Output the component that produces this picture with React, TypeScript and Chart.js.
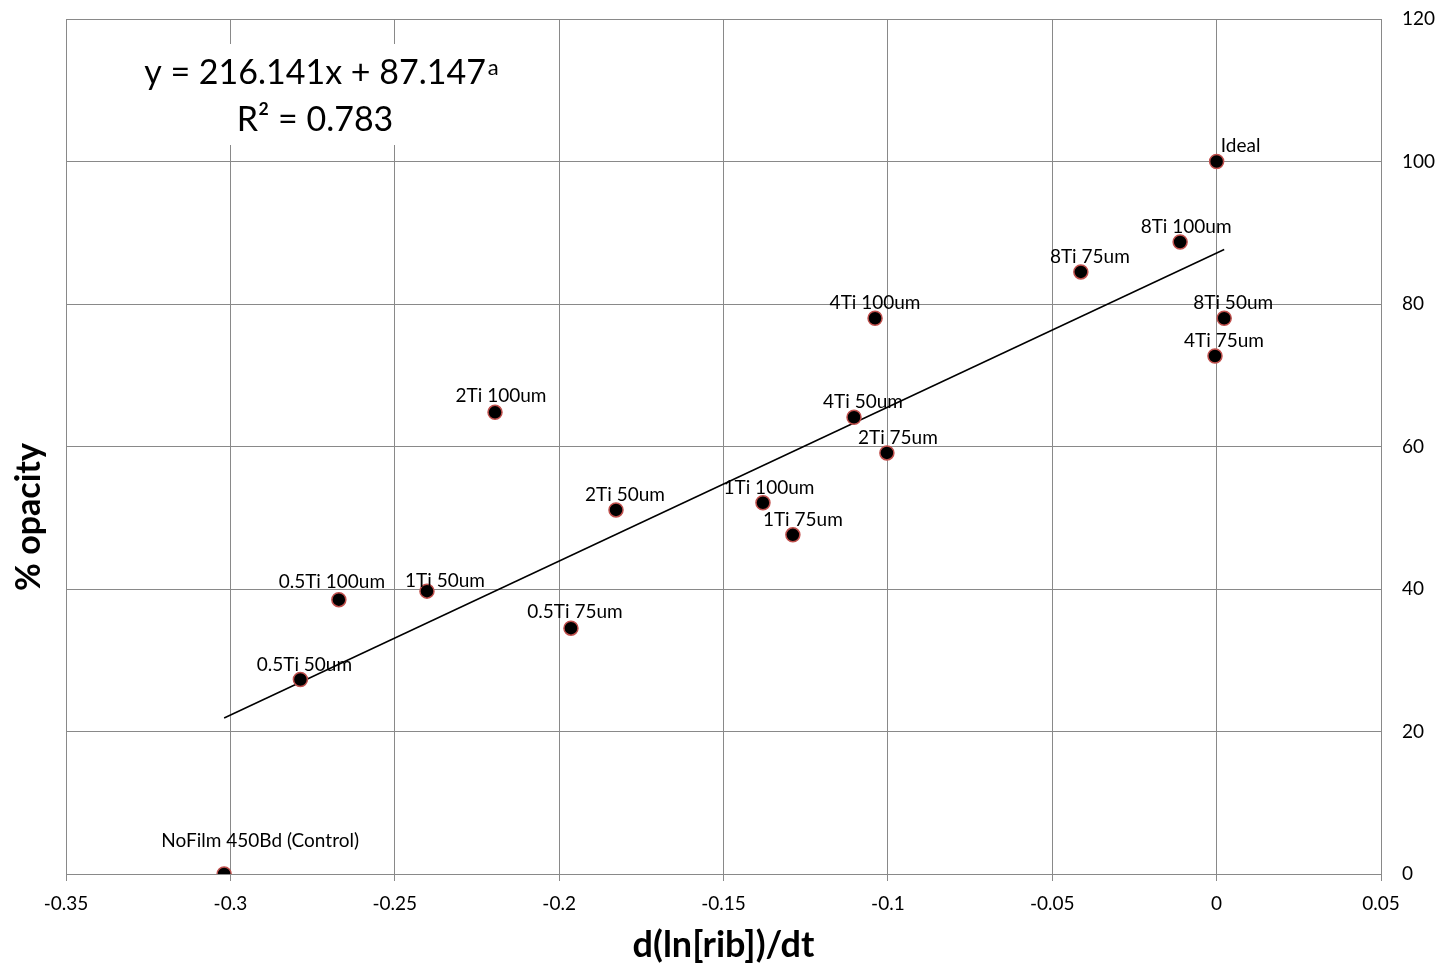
import React, { useEffect, useRef } from 'react';
import { Chart, registerables } from 'chart.js';

Chart.register(...registerables);

// ---- Data ----
const sampleNames = [
  'Ideal', '8Ti 100um', '8Ti 75um', '8Ti 50um', '4Ti 75um', '4Ti 100um', '4Ti 50um',
  '2Ti 75um', '1Ti 100um', '1Ti 75um', '2Ti 50um', '2Ti 100um', '0.5Ti 75um',
  '1Ti 50um', '0.5Ti 100um', '0.5Ti 50um', 'NoFilm 450Bd (Control)',
];
const rateValues = [
  0, -0.0111, -0.0413, 0.0023, -0.0005, -0.1039, -0.1103,
  -0.1003, -0.138, -0.1289, -0.1827, -0.2195, -0.1964,
  -0.2402, -0.267, -0.2787, -0.3019,
];
const opacityValues = [
  100, 88.7, 84.5, 78.0, 72.7, 78.0, 64.1,
  59.1, 52.1, 47.6, 51.1, 64.8, 34.5,
  39.7, 38.5, 27.3, 0,
];
const xTickValues = [-0.35, -0.3, -0.25, -0.2, -0.15, -0.1, -0.05, 0, 0.05];
const yTickValues = [0, 20, 40, 60, 80, 100, 120];
const trendSlope = 216.141;
const trendIntercept = 87.147;
const rSquared = 0.783;

// label nudges (pixels) relative to each point
const labelDx = [24, 6, 9, 9, 9, 0, 9, 11, 6, 10, 9, 6, 4, 18, -7, 4, 36];
const labelDy = [-16, -15, -15, -15, -15, -15, -15, -15, -15, -15, -15, -16, -16, -10, -18, -15, -33];

const FONT = 'Lato, "Open Sans", sans-serif';
const GRID = '#898989';

export default function App() {
  const canvasRef = useRef<HTMLCanvasElement | null>(null);

  useEffect(() => {
    if (!canvasRef.current) return;
    const xMin = Math.min(...rateValues);
    const xMax = Math.max(...rateValues);
    const trendData = [
      { x: xMin, y: trendSlope * xMin + trendIntercept },
      { x: xMax, y: trendSlope * xMax + trendIntercept },
    ];
    const points = rateValues.map((x, i) => ({ x, y: opacityValues[i] }));

    const labelPlugin = {
      id: 'pointLabels',
      afterDatasetsDraw(chart: any) {
        const meta = chart.getDatasetMeta(1);
        const ctx = chart.ctx;
        ctx.save();
        ctx.font = `19px ${FONT}`;
        ctx.fillStyle = '#000';
        ctx.textAlign = 'center';
        ctx.textBaseline = 'middle';
        meta.data.forEach((el: any, i: number) => {
          ctx.fillText(sampleNames[i], el.x + labelDx[i], el.y + labelDy[i]);
        });
        ctx.restore();
      },
    };

    const equationPlugin = {
      id: 'equationBox',
      beforeDatasetsDraw(chart: any) {
        const ctx = chart.ctx;
        ctx.save();
        ctx.fillStyle = '#fff';
        ctx.fillRect(140, 44, 360, 101);
        ctx.fillStyle = '#000';
        ctx.textBaseline = 'alphabetic';
        ctx.textAlign = 'left';
        const main = `y = ${trendSlope.toFixed(3)}x + ${trendIntercept.toFixed(3)}`;
        ctx.font = `34px ${FONT}`;
        const w1 = ctx.measureText(main).width;
        ctx.font = `22px ${FONT}`;
        const ws = ctx.measureText('a').width;
        const start = 321.5 - (w1 + ws + 2) / 2;
        ctx.font = `34px ${FONT}`;
        ctx.fillText(main, start, 84);
        ctx.font = `22px ${FONT}`;
        ctx.fillText('a', start + w1 + 2, 75);
        ctx.font = `34px ${FONT}`;
        ctx.textAlign = 'center';
        ctx.fillText(`R² = ${rSquared.toFixed(3)}`, 315, 131);
        ctx.restore();
      },
    };

    const titlePlugin = {
      id: 'axisTitles',
      afterDraw(chart: any) {
        const ctx = chart.ctx;
        const area = chart.chartArea;
        ctx.save();
        ctx.fillStyle = '#000';
        ctx.textAlign = 'center';
        ctx.textBaseline = 'middle';
        ctx.font = `bold 36px ${FONT}`;
        ctx.fillText('d(ln[rib])/dt', (area.left + area.right) / 2, 945);
        ctx.font = `bold 34px ${FONT}`;
        ctx.translate(29, 517);
        ctx.rotate(-Math.PI / 2);
        ctx.fillText('% opacity', 0, 0);
        ctx.restore();
      },
    };

    const chart = new Chart(canvasRef.current, {
      data: {
        datasets: [
          {
            type: 'line',
            label: 'Trend',
            data: trendData,
            borderColor: '#000',
            borderWidth: 1.5,
            pointRadius: 0,
            fill: false,
            order: 2,
          },
          {
            type: 'scatter',
            label: '% opacity',
            data: points,
            backgroundColor: '#000',
            borderColor: '#c0504d',
            borderWidth: 1.5,
            pointRadius: 7,
            order: 1,
          },
        ],
      } as any,
      options: {
        animation: false,
        responsive: true,
        maintainAspectRatio: false,
        layout: { padding: { left: 66, top: 19, right: 0, bottom: 0 } },
        plugins: {
          legend: { display: false },
          tooltip: { enabled: false },
        },
        scales: {
          x: {
            type: 'linear',
            min: -0.35,
            max: 0.05,
            afterBuildTicks(scale: any) {
              scale.ticks = xTickValues.map((v) => ({ value: v }));
            },
            afterFit(scale: any) {
              scale.height = 90;
            },
            grid: { color: GRID, tickLength: 7, drawTicks: true, lineWidth: 1 },
            border: { display: true, color: GRID },
            ticks: {
              color: '#000',
              font: { family: FONT, size: 19 },
              padding: 11,
              maxRotation: 0,
              callback: (v: any) => String(Math.round(Number(v) * 100) / 100),
            },
          },
          y: {
            type: 'linear',
            position: 'right',
            min: 0,
            max: 120,
            afterBuildTicks(scale: any) {
              scale.ticks = yTickValues.map((v) => ({ value: v }));
            },
            afterFit(scale: any) {
              scale.width = 57;
            },
            grid: {
              color: GRID,
              drawTicks: true,
              tickLength: 21,
              tickColor: 'rgba(0,0,0,0)',
              lineWidth: 1,
            },
            border: { display: true, color: GRID },
            ticks: {
              color: '#000',
              font: { family: FONT, size: 19 },
              padding: 0,
            },
          },
        },
      } as any,
      plugins: [equationPlugin, labelPlugin, titlePlugin],
    });
    return () => chart.destroy();
  }, []);

  return (
    <div style={{ position: 'absolute', left: 0, top: 0, width: 1438, height: 964, background: '#fff' }}>
      <canvas ref={canvasRef} />
    </div>
  );
}
